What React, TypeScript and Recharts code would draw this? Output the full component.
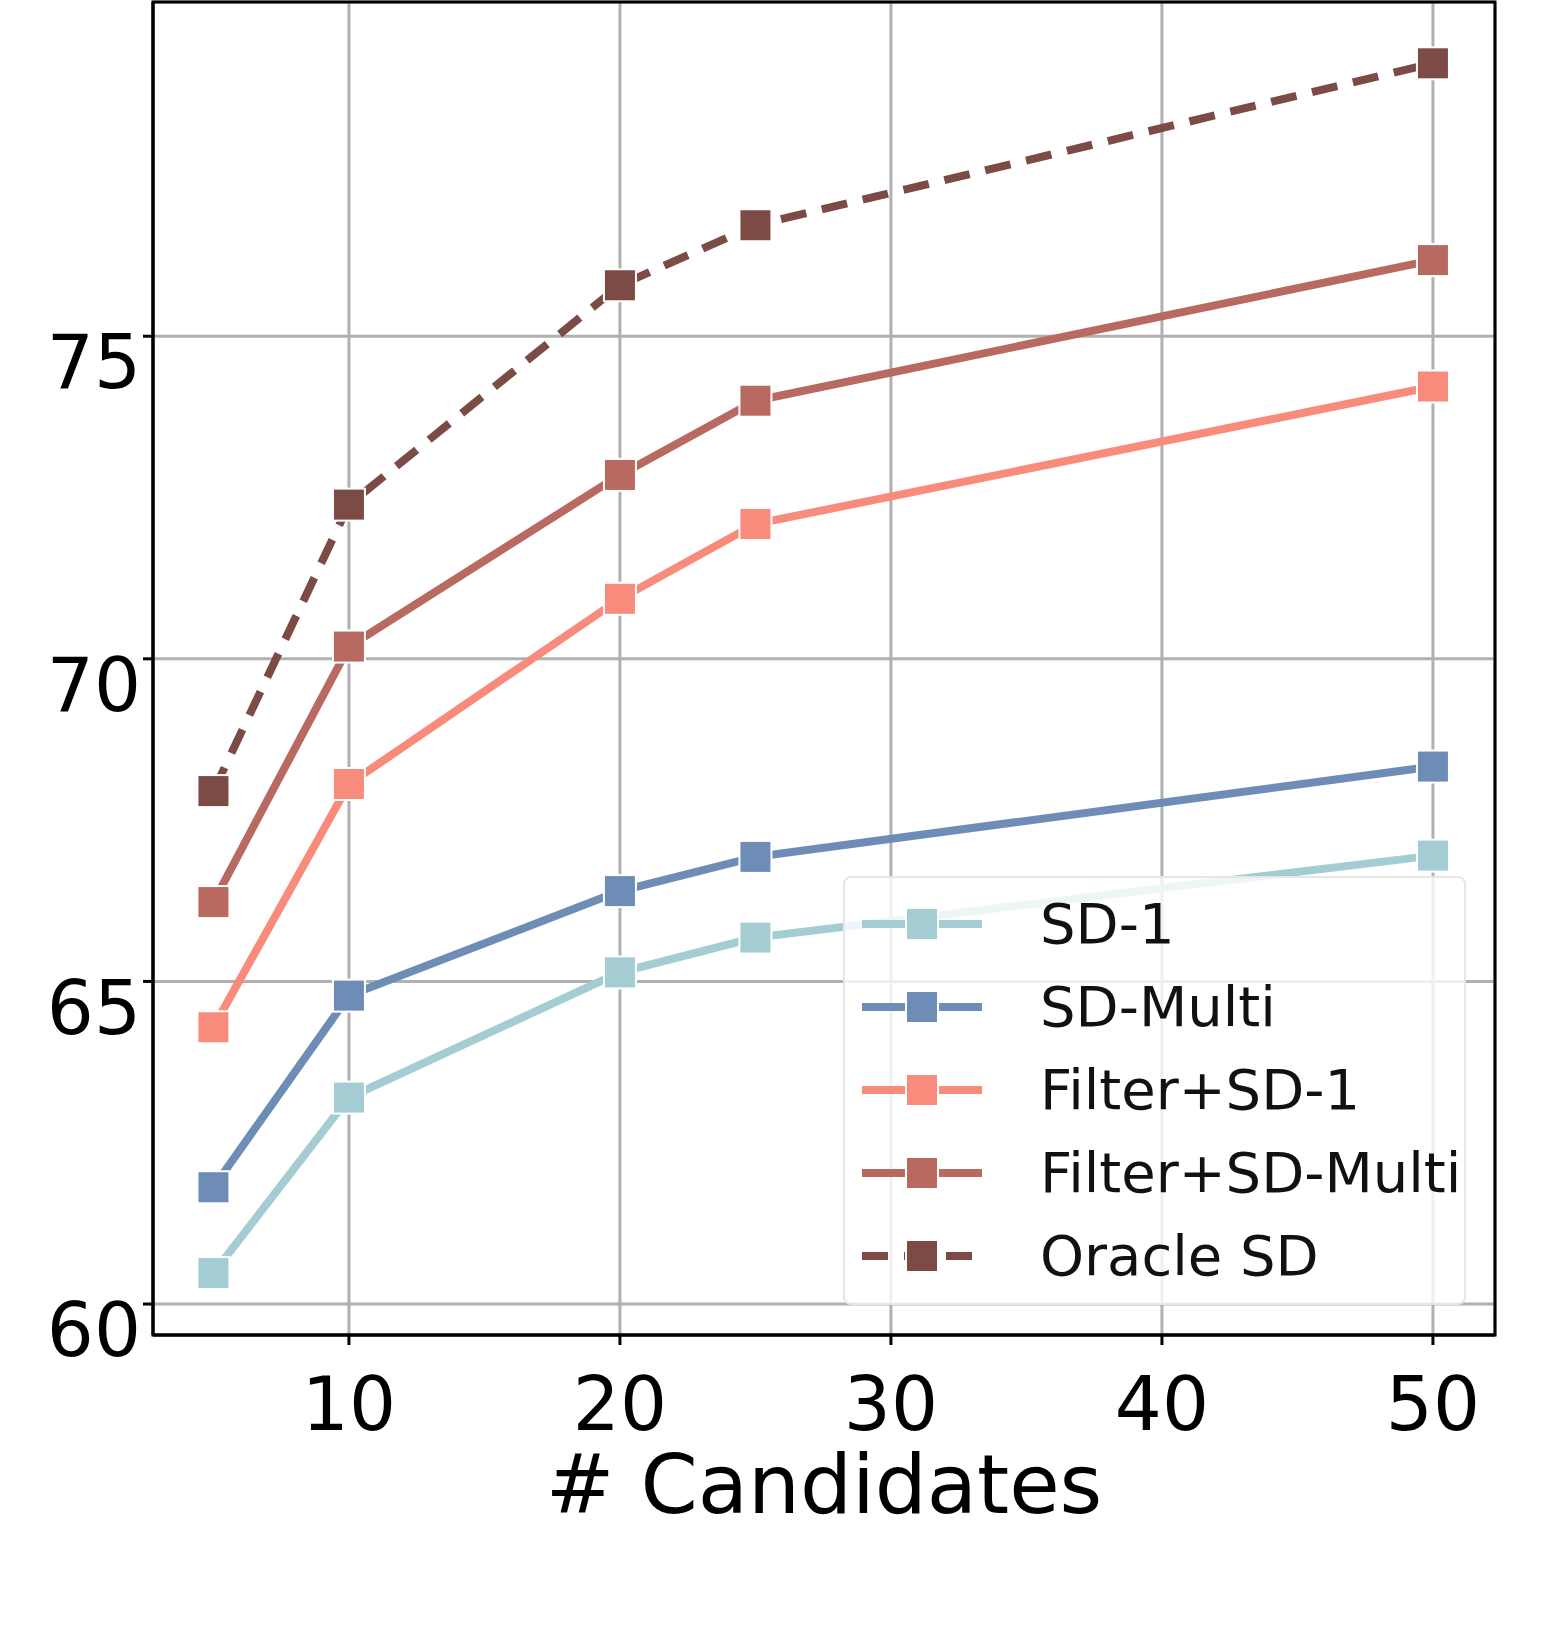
import * as React from "react"
import {
  LineChart,
  Line,
  XAxis,
  YAxis,
  CartesianGrid,
  ReferenceArea,
} from "recharts"

const candidates = [5, 10, 20, 25, 50]
const sd1 = [60.48, 63.2, 65.14, 65.68, 66.95]
const sdMulti = [61.81, 64.78, 66.4, 66.93, 68.33]
const filterSd1 = [64.29, 68.06, 70.93, 72.09, 74.22]
const filterSdMulti = [66.23, 70.19, 72.85, 74.0, 76.18]
const oracleSd = [67.95, 72.39, 75.79, 76.72, 79.23]
const xTicks = [10, 20, 30, 40, 50]
const yTicks = [60, 65, 70, 75]

const series = [
  { key: "sd1", name: "SD-1", color: "#a3cdd2", values: sd1, dash: undefined },
  { key: "sdMulti", name: "SD-Multi", color: "#6d8db7", values: sdMulti, dash: undefined },
  { key: "filterSd1", name: "Filter+SD-1", color: "#f98b7c", values: filterSd1, dash: undefined },
  { key: "filterSdMulti", name: "Filter+SD-Multi", color: "#b86a61", values: filterSdMulti, dash: undefined },
  { key: "oracleSd", name: "Oracle SD", color: "#7c4b45", values: oracleSd, dash: "26 16" },
]

const data = candidates.map((c, i) => {
  const row: any = { x: c }
  series.forEach((s) => (row[s.key] = s.values[i]))
  return row
})

const font = "DejaVu Sans"

const squareDot = (color: string) => (props: any) => {
  const { cx, cy, index } = props
  return (
    <rect key={index} x={cx - 16} y={cy - 16} width={32} height={32} fill={color} stroke="#fff" strokeWidth={2} />
  )
}

const LegendBox = () => (
  <div
    style={{
      position: "absolute",
      left: 843,
      top: 876,
      width: 623,
      height: 429,
      boxSizing: "border-box",
      border: "2px solid #e6e6e6",
      borderRadius: 8,
      background: "rgba(255,255,255,0.8)",
      fontFamily: font,
      fontSize: 56,
      paddingTop: 4,
    }}
  >
    {series.map((s) => (
      <div key={s.key} style={{ display: "flex", alignItems: "center", height: 83 }}>
        <svg width={180} height={40} style={{ marginLeft: 15 }}>
          <line x1={2} x2={122} y1={20} y2={20} stroke={s.color} strokeWidth={8} strokeDasharray={s.dash ? "26 16" : undefined} />
          <rect x={46} y={4} width={32} height={32} fill={s.color} stroke="#fff" strokeWidth={2} />
        </svg>
        <span style={{ color: "#111" }}>{s.name}</span>
      </div>
    ))}
  </div>
)

export default function App() {
  return (
    <div style={{ position: "absolute", left: 0, top: 0, width: 1557, height: 1631, background: "#fff" }}>
      <LineChart width={1557} height={1631} data={data} margin={{ top: 2, right: 62, left: 0, bottom: 0 }}>
        <CartesianGrid stroke="#b0b0b0" strokeWidth={3} />
        <XAxis
          dataKey="x"
          type="number"
          domain={[2.77, 52.29]}
          ticks={xTicks}
          height={296}
          stroke="#000"
          strokeWidth={3}
          tickSize={10}
          tick={{ fontSize: 74, fill: "#000", fontFamily: font, dy: 30 }}
          label={{ value: "# Candidates", position: "insideTop", offset: 120, fontSize: 82, fill: "#000", fontFamily: font }}
        />
        <YAxis
          type="number"
          domain={[59.52, 80.18]}
          ticks={yTicks}
          width={153}
          stroke="#000"
          strokeWidth={3}
          tickSize={10}
          tick={{ fontSize: 74, fill: "#000", fontFamily: font, dy: 26 }}
        />
        <ReferenceArea x1={2.77} x2={52.29} y1={59.52} y2={80.18} fill="none" stroke="#000" strokeWidth={3} ifOverflow="visible" />
        {series.map((s) => (
          <Line
            key={s.key}
            dataKey={s.key}
            name={s.name}
            stroke={s.color}
            strokeWidth={8}
            strokeDasharray={s.dash}
            dot={squareDot(s.color)}
            activeDot={false}
            isAnimationActive={false}
          />
        ))}
      </LineChart>
      <LegendBox />
    </div>
  )
}
